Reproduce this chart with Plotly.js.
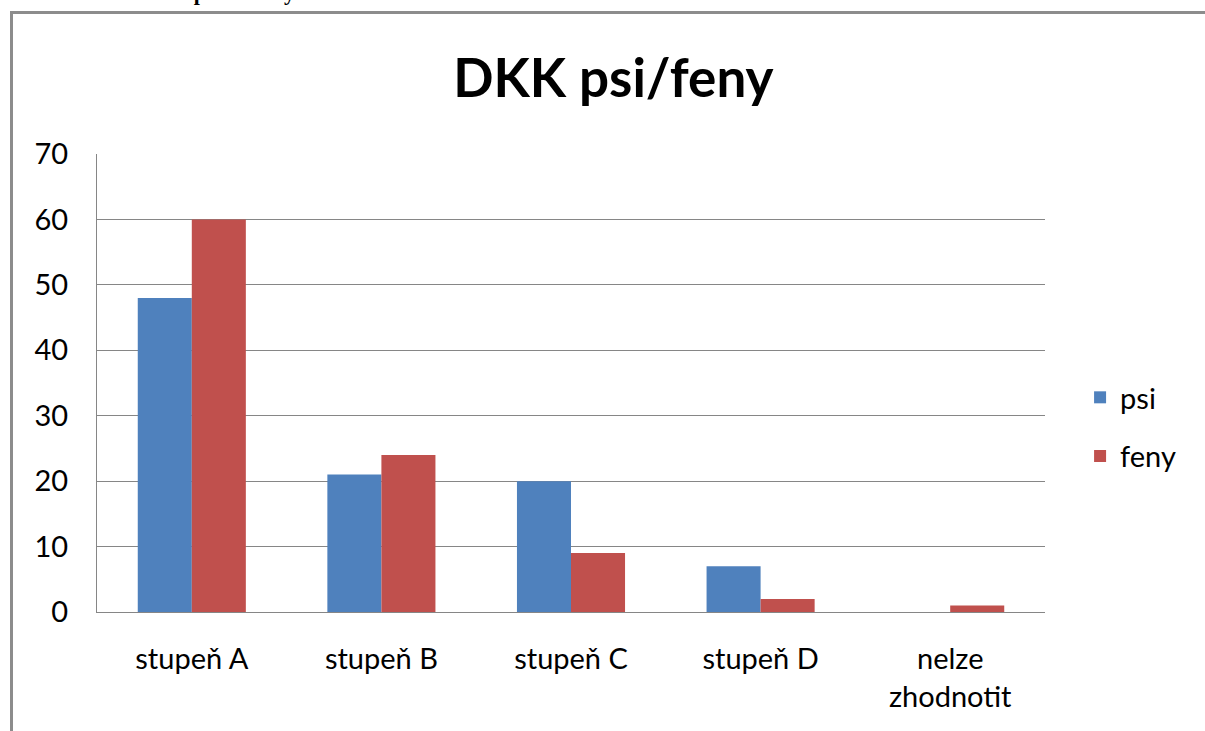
<!DOCTYPE html>
<html>
<head>
<meta charset="utf-8">
<script src="https://cdn.plot.ly/plotly-3.0.1.min.js"></script>
<style>
  html, body { margin: 0; padding: 0; background: #fff; overflow: hidden; }
  #wrap { position: relative; width: 1205px; height: 731px; overflow: hidden; }
  #frame { position: absolute; left: 10px; top: 11px; width: 1300px; height: 900px;
           border-left: 3px solid #8c8c8c; border-top: 3px solid #8c8c8c; box-sizing: border-box; }
  #caption { position: absolute; left: 0; top: -20px; height: 22px; width: 600px;
             font-family: "Liberation Serif", serif; font-weight: bold; font-size: 22px;
             color: #000; white-space: nowrap; padding-left: 40px; letter-spacing: 4px; }
  #chart { position: absolute; left: 0; top: 0; width: 1205px; height: 731px; }
</style>
</head>
<body>
<div id="wrap">
  <div id="frame"></div>
  <div id="caption">Graf: DKK psi/feny</div>
  <div id="chart"></div>
</div>
<script>
const categories = ["stupeň A", "stupeň B", "stupeň C", "stupeň D", "nelze<br>zhodnotit"];
const psiValues  = [48, 21, 20, 7, 0];
const fenyValues = [60, 24, 9, 2, 1];
const yTicks = [0, 10, 20, 30, 40, 50, 60, 70];
const seriesNames = ["psi", "feny"];
const chartTitle = "DKK psi/feny";

const baseFont = "Lato, 'Open Sans', sans-serif";

const traces = [
  { type: "bar", name: seriesNames[0], x: categories, y: psiValues,
    marker: { color: "#4F81BD" }, legendgroup: "a", hoverinfo: "y" },
  { type: "bar", name: seriesNames[1], x: categories, y: fenyValues,
    marker: { color: "#C0504D" }, legendgroup: "b", hoverinfo: "y" }
];

const layout = {
  width: 1205, height: 731,
  paper_bgcolor: "rgba(0,0,0,0)", plot_bgcolor: "rgba(0,0,0,0)",
  margin: { l: 97, r: 160, t: 154, b: 119, pad: 0 },
  font: { family: baseFont, size: 29, color: "#000" },
  title: { text: "<b>" + chartTitle + "</b>", x: 0.509, xref: "container", xanchor: "center",
           y: 0.893, yref: "container", yanchor: "middle",
           font: { family: baseFont, size: 53, color: "#000" } },
  barmode: "group", bargap: 0.43, bargroupgap: 0,
  xaxis: { type: "category", showline: true, linecolor: "#868686", linewidth: 1,
           ticks: "", showgrid: false, ticklabelstandoff: 21, tickangle: 0,
           tickfont: { family: baseFont, size: 29, color: "#000" } },
  yaxis: { range: [0, 70], tickvals: yTicks, showline: true, linecolor: "#868686", linewidth: 1,
           showgrid: true, gridcolor: "#868686", gridwidth: 1, zeroline: false,
           ticks: "", ticklabelstandoff: 22,
           tickfont: { family: baseFont, size: 29, color: "#000" } },
  showlegend: true,
  legend: { x: 1.037, xanchor: "left", y: 0.404, yanchor: "middle",
            traceorder: "grouped", tracegroupgap: 18, itemwidth: 30,
            font: { family: baseFont, size: 29, color: "#000" }, bgcolor: "rgba(0,0,0,0)" }
};

Plotly.newPlot("chart", traces, layout, { displayModeBar: false, staticPlot: true });
</script>
</body>
</html>
